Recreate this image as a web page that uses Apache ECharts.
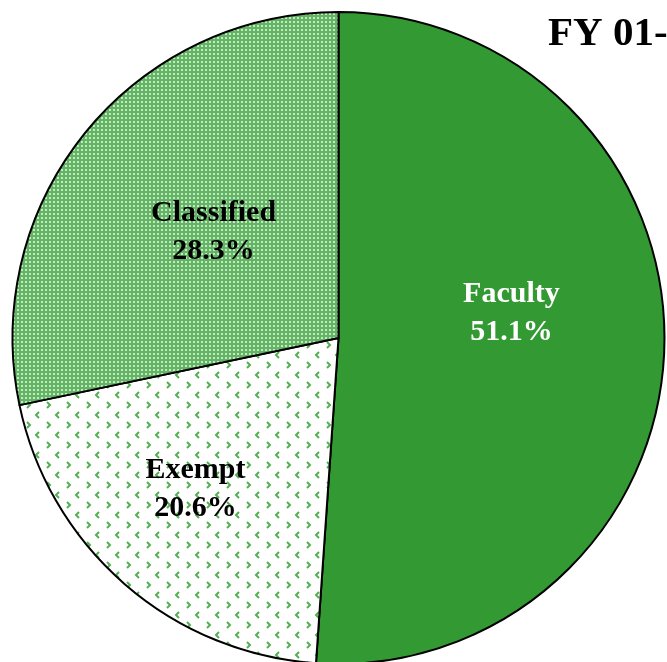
<!DOCTYPE html>
<html>
<head>
<meta charset="utf-8">
<script src="https://cdn.jsdelivr.net/npm/echarts@6/dist/echarts.min.js"></script>
<style>
  html, body { margin: 0; padding: 0; background: #fff; }
  #chart { width: 667px; height: 662px; }
</style>
</head>
<body>
<div id="chart"></div>
<script>
const categories = ["Faculty", "Exempt", "Classified"];
const shares = [51.1, 20.6, 28.3];
const titleText = "FY 01-";

// small tile patterns like the Excel fills
const makeTile = (w, h, draw) => {
  const c = document.createElement("canvas");
  c.width = w;
  c.height = h;
  draw(c.getContext("2d"));
  return c;
};

const gridTile = makeTile(4, 4, (ctx) => {
  ctx.fillStyle = "#62b562";
  ctx.fillRect(0, 0, 4, 4);
  ctx.fillStyle = "#c8e7c8";
  ctx.fillRect(1, 1, 2, 2);
});

const chevronTile = makeTile(20, 20, (ctx) => {
  ctx.fillStyle = "#ffffff";
  ctx.fillRect(0, 0, 20, 20);
  ctx.strokeStyle = "#52b052";
  ctx.lineWidth = 2;
  ctx.beginPath(); // ">"
  ctx.moveTo(7, 2); ctx.lineTo(10, 5); ctx.lineTo(7, 8);
  ctx.stroke();
  ctx.beginPath(); // "<"
  ctx.moveTo(19, 12); ctx.lineTo(16, 15); ctx.lineTo(19, 18);
  ctx.stroke();
});

const fills = ["#339933", { image: chevronTile, repeat: "repeat" }, { image: gridTile, repeat: "repeat" }];
const labelColors = ["#ffffff", "#000000", "#000000"];
const labelShift = [[7, -30], [-34, 26], [4, -1]];

const chart = echarts.init(document.getElementById("chart"));

chart.setOption({
  animation: false,
  title: {
    text: titleText,
    left: 543,
    top: 9,
    textStyle: {
      fontFamily: "Liberation Serif",
      fontWeight: "bold",
      fontSize: 41,
      color: "#000",
    },
  },
  series: [
    {
      type: "pie",
      center: [338.5, 338],
      radius: 326,
      startAngle: 90,
      clockwise: true,
      avoidLabelOverlap: false,
      data: categories.map((name, i) => ({
        name,
        value: shares[i],
        itemStyle: { color: fills[i] },
        label: { color: labelColors[i] },
      })),
      itemStyle: {
        borderColor: "#000",
        borderWidth: 2,
      },
      label: {
        show: true,
        position: "inside",
        formatter: (p) => p.name + "\n" + p.value.toFixed(1) + "%",
        fontFamily: "Liberation Serif",
        fontWeight: "bold",
        fontSize: 30,
        lineHeight: 38,
        align: "center",
      },
      labelLayout: (p) => ({
        dx: labelShift[p.dataIndex][0],
        dy: labelShift[p.dataIndex][1],
      }),
      labelLine: { show: false },
      emphasis: { disabled: true },
    },
  ],
});
</script>
</body>
</html>
